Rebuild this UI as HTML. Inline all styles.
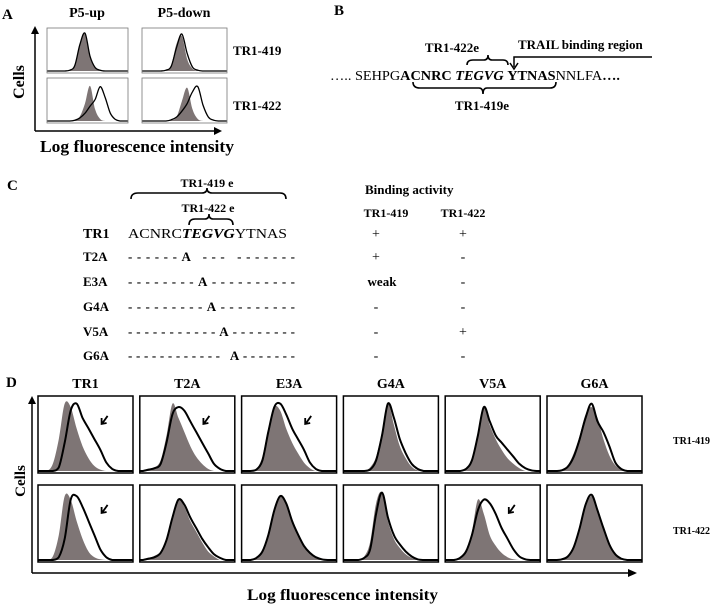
<!DOCTYPE html>
<html><head><meta charset="utf-8"><style>
html,body{margin:0;padding:0;background:#fff;}
svg{display:block;font-family:"Liberation Serif",serif;}
.b{font-weight:bold;}
</style></head><body>
<svg id="fig" width="715" height="607" viewBox="0 0 715 607" xmlns="http://www.w3.org/2000/svg">
<g>
<text x="2" y="19" class="b" font-size="15">A</text>
<text x="87" y="17" class="b" font-size="14" text-anchor="middle">P5-up</text>
<text x="184" y="17" class="b" font-size="14" text-anchor="middle">P5-down</text>
<text x="233" y="55" class="b" font-size="13">TR1-419</text>
<text x="233" y="110" class="b" font-size="13">TR1-422</text>
<text transform="translate(24,82) rotate(-90)" class="b" font-size="16" text-anchor="middle">Cells</text>
<line x1="35" y1="131" x2="35" y2="32" stroke="#000" stroke-width="1.5"/>
<path d="M31,34 L35,26 L39,34 Z"/>
<line x1="35" y1="131" x2="216" y2="131" stroke="#000" stroke-width="1.5"/>
<path d="M214,127 L222,131 L214,135 Z"/>
<text x="40" y="152" class="b" font-size="17" textLength="194" lengthAdjust="spacingAndGlyphs">Log fluorescence intensity</text>
<g id="histA"></g>
</g>
<g>
<text x="334" y="15" class="b" font-size="15">B</text>
<text x="452" y="52" class="b" font-size="13" text-anchor="middle">TR1-422e</text>
<text x="518" y="49" class="b" font-size="13">TRAIL binding region</text>
<path d="M652,57 L514,57 L514,67" fill="none" stroke="#000" stroke-width="1.5"/>
<path d="M510,63 L514,69 L518,63" fill="none" stroke="#000" stroke-width="1.5"/>
<path d="M467,65 Q467,60 473,60 L484,60 Q488,60 488,55 Q488,60 492,60 L503,60 Q508,60 508,65" fill="none" stroke="#000" stroke-width="1.6"/>
<text x="330" y="80" font-size="14" textLength="290" lengthAdjust="spacingAndGlyphs">….. SEHPG<tspan class="b">ACNRC </tspan><tspan class="b" font-style="italic">TEGVG </tspan><tspan class="b">YTNAS</tspan>NNLFA<tspan class="b">….</tspan></text>
<path d="M413,82 Q413,88 420,88 L479,88 Q483,88 483,94 Q483,88 487,88 L550,88 Q556,88 556,82" fill="none" stroke="#000" stroke-width="1.6"/>
<text x="482" y="110" class="b" font-size="13" text-anchor="middle">TR1-419e</text>
</g>
<g>
<text x="7" y="190" class="b" font-size="15">C</text>
<text x="207" y="187" class="b" font-size="12" text-anchor="middle">TR1-419 e</text>
<path d="M131,199 Q131,193 138,193 L202,193 Q207,193 207,188 Q207,193 212,193 L280,193 Q286,193 286,199" fill="none" stroke="#000" stroke-width="1.6"/>
<text x="208" y="212" class="b" font-size="12" text-anchor="middle">TR1-422 e</text>
<path d="M189,225 Q189,219 195,219 L205,219 Q209,219 209,214 Q209,219 213,219 L227,219 Q233,219 233,225" fill="none" stroke="#000" stroke-width="1.6"/>
<text x="365" y="194" class="b" font-size="13">Binding activity</text>
<text x="386" y="217" class="b" font-size="12" text-anchor="middle">TR1-419</text>
<text x="463" y="217" class="b" font-size="12" text-anchor="middle">TR1-422</text>
<g id="tableC"></g>
</g>
<g>
<text x="6" y="387" class="b" font-size="15">D</text>
<text transform="translate(25,481) rotate(-90)" class="b" font-size="15" text-anchor="middle">Cells</text>
<line x1="32" y1="573" x2="32" y2="402" stroke="#000" stroke-width="1.5"/>
<path d="M28,404 L32,396 L36,404 Z"/>
<line x1="32" y1="573" x2="630" y2="573" stroke="#000" stroke-width="1.5"/>
<path d="M628,569 L637,573 L628,577 Z"/>
<text x="247" y="600" class="b" font-size="16" textLength="191" lengthAdjust="spacingAndGlyphs">Log fluorescence intensity</text>
<text x="673" y="444" class="b" font-size="11" textLength="37" lengthAdjust="spacingAndGlyphs">TR1-419</text>
<text x="673" y="534" class="b" font-size="11" textLength="37" lengthAdjust="spacingAndGlyphs">TR1-422</text>
<g id="histD"></g>
</g>
</svg>
<script>
const mutantNames = ["TR1","T2A","E3A","G4A","V5A","G6A"];
const mutantSeqs = ["ACNRCTEGVGYTNAS","------A --- -------","--------A----------","---------A---------","-----------A--------","------------ A-------"];
const binding419 = ["+","+","weak","-","-","-"];
const binding422 = ["+","-","-","-","+","-"];
const aCols = ["P5-up","P5-down"];
const aRows = ["TR1-419","TR1-422"];
const aUp419Gray = [0,0,0,0,.02,.15,.7,.95,.35,.08,.02,0,0,0,0,0];
const aUp419Black = [0,0,0,0,.02,.14,.68,.97,.38,.09,.02,0,0,0,0,0];
const aDown419Gray = [0,0,0,0,.02,.15,.7,.9,.3,.06,.01,0,0,0,0,0];
const aDown419Black = [0,0,0,0,.02,.12,.6,.95,.45,.1,.02,0,0,0,0,0];
const aUp422Gray = [0,0,0,0,0,.02,.12,.45,.9,.3,.05,0,0,0,0,0];
const aUp422Black = [0,0,0,0,0,.02,.08,.2,.38,.55,.88,.6,.2,.04,0,0];
const aDown422Gray = [0,0,0,0,0,.02,.1,.5,.85,.3,.05,0,0,0,0,0];
const aDown422Black = [0,0,0,0,0,.03,.1,.25,.45,.75,.88,.4,.1,.02,0,0];
const dCols = ["TR1","T2A","E3A","G4A","V5A","G6A"];
const d419Gray = [
 [0,0,.1,.45,.95,.9,.6,.35,.18,.07,.02,0,0,0,0,0],
 [0,.03,.05,.15,.5,.95,.75,.55,.35,.2,.1,.03,0,0,0,0],
 [0,0,.03,.2,.6,.9,.85,.6,.4,.25,.12,.04,0,0,0,0],
 [0,0,0,0,.05,.2,.55,.95,.65,.35,.18,.06,.01,0,0,0],
 [0,0,0,.03,.15,.5,.9,.65,.45,.3,.18,.1,.04,0,0,0],
 [0,0,.02,.08,.25,.5,.8,.9,.75,.45,.22,.08,.02,0,0,0]];
const d419Black = [
 [0,0,0,.05,.4,.85,.95,.75,.6,.45,.3,.12,.03,0,0,0],
 [0,.02,.04,.1,.4,.8,.9,.85,.7,.55,.4,.25,.1,.03,0,0],
 [0,0,.02,.15,.55,.9,.95,.8,.6,.45,.3,.12,.03,0,0,0],
 [0,0,0,0,.02,.15,.5,.95,.75,.45,.25,.1,.03,0,0,0],
 [0,0,0,.03,.15,.5,.9,.7,.5,.4,.3,.2,.1,.04,.01,0],
 [0,0,.01,.06,.2,.45,.75,.95,.7,.55,.35,.12,.03,0,0,0]];
const d422Gray = [
 [0,0,.05,.35,.9,.85,.55,.3,.12,.04,.01,0,0,0,0,0],
 [0,.03,.06,.12,.3,.6,.85,.75,.55,.4,.25,.12,.05,0,0,0],
 [0,0,.03,.12,.35,.7,.9,.8,.55,.35,.2,.1,.04,.01,0,0],
 [0,0,.01,.05,.25,.8,.95,.55,.3,.17,.08,.03,0,0,0,0],
 [0,0,.03,.12,.4,.85,.65,.35,.2,.1,.04,.01,0,0,0,0],
 [0,0,.01,.05,.18,.45,.75,.9,.7,.45,.22,.08,.02,0,0,0]];
const d422Black = [
 [0,0,0,.04,.3,.85,.9,.75,.55,.35,.15,.04,0,0,0,0],
 [0,.02,.04,.1,.28,.6,.85,.78,.6,.45,.3,.18,.08,.03,0,0],
 [0,0,.03,.12,.35,.7,.9,.8,.55,.36,.2,.1,.04,.01,0,0],
 [0,0,0,.03,.15,.65,.95,.6,.35,.22,.12,.05,.01,0,0,0],
 [0,0,.03,.12,.35,.7,.85,.8,.65,.45,.3,.15,.05,.01,0,0],
 [0,0,.01,.05,.18,.45,.78,.92,.7,.45,.22,.08,.02,0,0,0]];
const dArrows419 = [true,true,true,false,false,false];
const dArrows422 = [true,false,false,false,true,false];

const NS="http://www.w3.org/2000/svg";
function mk(tag,parent){const e=document.createElementNS(NS,tag);parent.appendChild(e);return e;}
function pathFor(vals,x0,w,yb,h,closed){
  const n=vals.length;
  const sx=i=>x0+w*(i+0.5)/n, sy=v=>yb-v*h;
  let pts=[[x0,yb]];
  vals.forEach((v,i)=>pts.push([sx(i),sy(v)]));
  pts.push([x0+w,yb]);
  let d="M"+pts[0][0].toFixed(1)+","+pts[0][1].toFixed(1);
  for(let i=1;i<pts.length;i++){
    const p0=pts[Math.max(i-2,0)],p1=pts[i-1],p2=pts[i],p3=pts[Math.min(i+1,pts.length-1)];
    const c1x=p1[0]+(p2[0]-p0[0])/6,c1y=p1[1]+(p2[1]-p0[1])/6;
    const c2x=p2[0]-(p3[0]-p1[0])/6,c2y=p2[1]-(p3[1]-p1[1])/6;
    d+=` C${c1x.toFixed(1)},${Math.min(c1y,yb).toFixed(1)} ${c2x.toFixed(1)},${Math.min(c2y,yb).toFixed(1)} ${p2[0].toFixed(1)},${p2[1].toFixed(1)}`;
  }
  if(closed)d+="Z";
  return d;
}
function drawHist(g,x,y,w,h,gray,black,sw,name,arrow){
  const grp=mk("g",g);
  
  
  const yb=y+h-2, hh=h-6;
  const f=mk("path",grp);
  f.setAttribute("d",pathFor(gray,x,w,yb,hh,true));
  f.setAttribute("fill","#7e7575");
  
  
  const l=mk("path",grp);
  l.setAttribute("d",pathFor(black,x,w,yb,hh,false));
  l.setAttribute("fill","none");l.setAttribute("stroke","#000");l.setAttribute("stroke-width",sw);
  
  
  const r=mk("rect",grp);
  r.setAttribute("x",x);r.setAttribute("y",y);r.setAttribute("width",w);r.setAttribute("height",h);
  r.setAttribute("fill","none");r.setAttribute("stroke",sw>1.5?"#000":"#777");r.setAttribute("stroke-width",sw>1.5?1.5:0.8);
  
  
  if(arrow){
    const ax=x+w*0.68, ay=y+h*0.35;
    const a=mk("path",grp);
    a.setAttribute("d",`M${ax+5},${ay-7} L${ax},${ay} M${ax-1},${ay-5} L${ax-1},${ay+1} L${ax+4},${ay}`);
    a.setAttribute("stroke","#000");a.setAttribute("stroke-width","1.8");a.setAttribute("fill","none");
    
    
  }
}
const gA=document.getElementById("histA");
const aXs=[47,142], aWs=[81,85], aYs=[28,78], aH=45;
const aData=[[aUp419Gray,aUp419Black,aDown419Gray,aDown419Black],[aUp422Gray,aUp422Black,aDown422Gray,aDown422Black]];
for(let r=0;r<2;r++)for(let c=0;c<2;c++)
  drawHist(gA,aXs[c],aYs[r],aWs[c],aH,aData[r][c*2],aData[r][c*2+1],1.3,"hist-a-"+aCols[c].toLowerCase()+"-"+aRows[r].toLowerCase(),false);
const gD=document.getElementById("histD");
const dX0=38, dStep=101.8, dW=95, dYs=[396,485], dH=77;
dCols.forEach((name,i)=>{
  const x=dX0+i*dStep;
  const t=mk("text",gD);
  t.setAttribute("x",x+dW/2);t.setAttribute("y",388);t.setAttribute("text-anchor","middle");
  t.setAttribute("class","b");t.setAttribute("font-size","14");t.textContent=name;
  
  
  drawHist(gD,x,dYs[0],dW,dH,d419Gray[i],d419Black[i],2,"hist-d-"+name.toLowerCase()+"-tr1-419",dArrows419[i]);
  drawHist(gD,x,dYs[1],dW,dH,d422Gray[i],d422Black[i],2,"hist-d-"+name.toLowerCase()+"-tr1-422",dArrows422[i]);
});
const gC=document.getElementById("tableC");
const rowYs=[238,261,286,311,336,360];
mutantNames.forEach((m,i)=>{
  const y=rowYs[i];
  const a=mk("text",gC);a.setAttribute("x",83);a.setAttribute("y",y);a.setAttribute("class","b");a.setAttribute("font-size",i==0?14:13);a.textContent=m;
  
  
  const s=mk("text",gC);s.setAttribute("x",128);s.setAttribute("y",y);s.setAttribute("font-size",i==0?14:13);
  s.setAttribute("class",i==0?"":"b");
  s.setAttribute("lengthAdjust",i==0?"spacingAndGlyphs":"spacing");
  s.setAttribute("textLength",i==0?159:167);
  if(i==0){s.innerHTML='ACNRC<tspan font-style="italic" font-weight="bold">TEGVG</tspan>YTNAS';}else{s.textContent=mutantSeqs[i];}
  
  
  const b1=mk("text",gC);b1.setAttribute("x",binding419[i]=="weak"?382:376);b1.setAttribute("y",y);b1.setAttribute("text-anchor","middle");
  b1.setAttribute("font-size",binding419[i]=="weak"?13:14);if(binding419[i]=="weak")b1.setAttribute("class","b");b1.textContent=binding419[i];
  
  
  const b2=mk("text",gC);b2.setAttribute("x",463);b2.setAttribute("y",y);b2.setAttribute("text-anchor","middle");b2.setAttribute("font-size",14);b2.textContent=binding422[i];
  
  
});
</script>
</body></html>
